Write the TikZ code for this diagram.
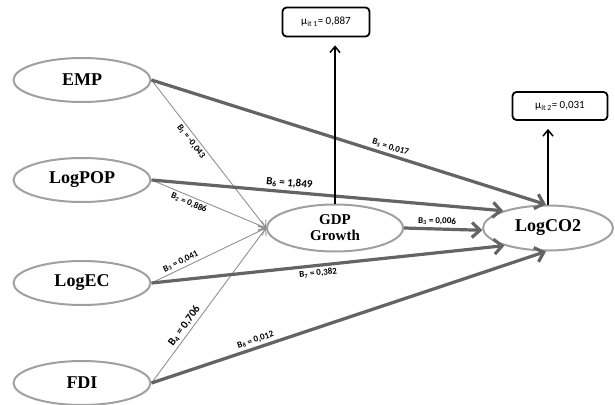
\documentclass[tikz,border=0pt]{standalone}
\usepackage{fontspec}
\setmainfont{Liberation Serif}
\newfontfamily\labfont{Carlito}
\usetikzlibrary{arrows.meta,shapes.geometric}
\definecolor{ellgray}{RGB}{160,160,160}
\definecolor{thickgray}{RGB}{100,100,100}
\definecolor{thingray}{RGB}{145,145,145}
\begin{document}
\begin{tikzpicture}[x=1pt,y=-1pt,
  var/.style={ellipse, draw=ellgray, line width=2pt, minimum width=137pt, minimum height=44pt, inner sep=0pt, fill=white, font=\bfseries\fontsize{18}{18}\selectfont},
  mubox/.style={draw=black, line width=1.8pt, rounded corners=4pt, minimum width=87pt, minimum height=29pt, inner sep=0pt, font=\labfont\fontsize{11}{11}\selectfont},
  thickarrow/.style={draw=thickgray, line width=3.2pt, -{Straight Barb[length=8pt,width=15pt]}},
  thinarrow/.style={draw=thingray, line width=0.9pt, -{Straight Barb[length=6pt,width=10pt]}},
  muarrow/.style={draw=black, line width=1.5pt, -{Straight Barb[length=6pt,width=10pt]}, shorten >=8pt},
  coef/.style={font=\labfont\bfseries\fontsize{9}{9}\selectfont, sloped, inner sep=2.5pt},
  bigcoef/.style={font=\labfont\bfseries\fontsize{11}{11}\selectfont, sloped, inner sep=2.5pt}
]
\useasboundingbox (0,0) rectangle (615,404);

\node[var] (emp) at (82,80) {EMP};
\node[var] (pop) at (82,180) {LogPOP};
\node[var] (ec) at (82,283) {LogEC};
\node[var] (fdi) at (82,383) {FDI};
\node[var, minimum width=136pt, minimum height=47pt, font=\bfseries\fontsize{15}{16}\selectfont, align=center] (gdp) at (335,228) {GDP\\Growth};
\node[var, minimum width=130pt, minimum height=45pt] (co2) at (548,228) {LogCO2};

\node[mubox] (m1) at (326,22) {μ\textsubscript{it 1}= 0,887};
\node[mubox, minimum width=95pt, minimum height=28pt] (m2) at (560,106) {μ\textsubscript{it 2}= 0,031};

% thin arrows to GDP Growth
\draw[thinarrow] (emp.east) -- node[coef, pos=0.39, below] {B\textsubscript{1} = -0,043} (gdp.west);
\draw[thinarrow] (pop.east) -- node[coef, pos=0.35, below] {B\textsubscript{2} = 0,886} (gdp.west);
\draw[thinarrow] (ec.east) -- node[coef, pos=0.28, above] {B\textsubscript{3} = 0,041} (gdp.west);
\draw[thinarrow] (fdi.east) -- node[bigcoef, pos=0.34, above] {B\textsubscript{4} = 0,706} (gdp.west);

% thick arrows to LogCO2
\draw[thickarrow] (emp.east) -- node[coef, pos=0.6, above] {B\textsubscript{5} = 0,017} (co2.95);
\draw[thickarrow] (pop.east) -- node[bigcoef, pos=0.39, above] {B\textsubscript{6} = 1,849} (co2.159);
\draw[thickarrow] (gdp.east) -- node[coef, pos=0.42, above] {B\textsubscript{3} = 0,006} (co2.182);
\draw[thickarrow] (ec.east) -- node[coef, pos=0.47, below] {B\textsubscript{7} = 0,382} (co2.202);
\draw[thickarrow] (fdi.east) -- node[coef, pos=0.27, above] {B\textsubscript{8} = 0,012} (co2.265);

% error terms
\draw[muarrow] (gdp.north) -- (gdp.north |- m1.south);
\draw[muarrow] (co2.north) -- (co2.north |- m2.south);
\end{tikzpicture}
\end{document}
